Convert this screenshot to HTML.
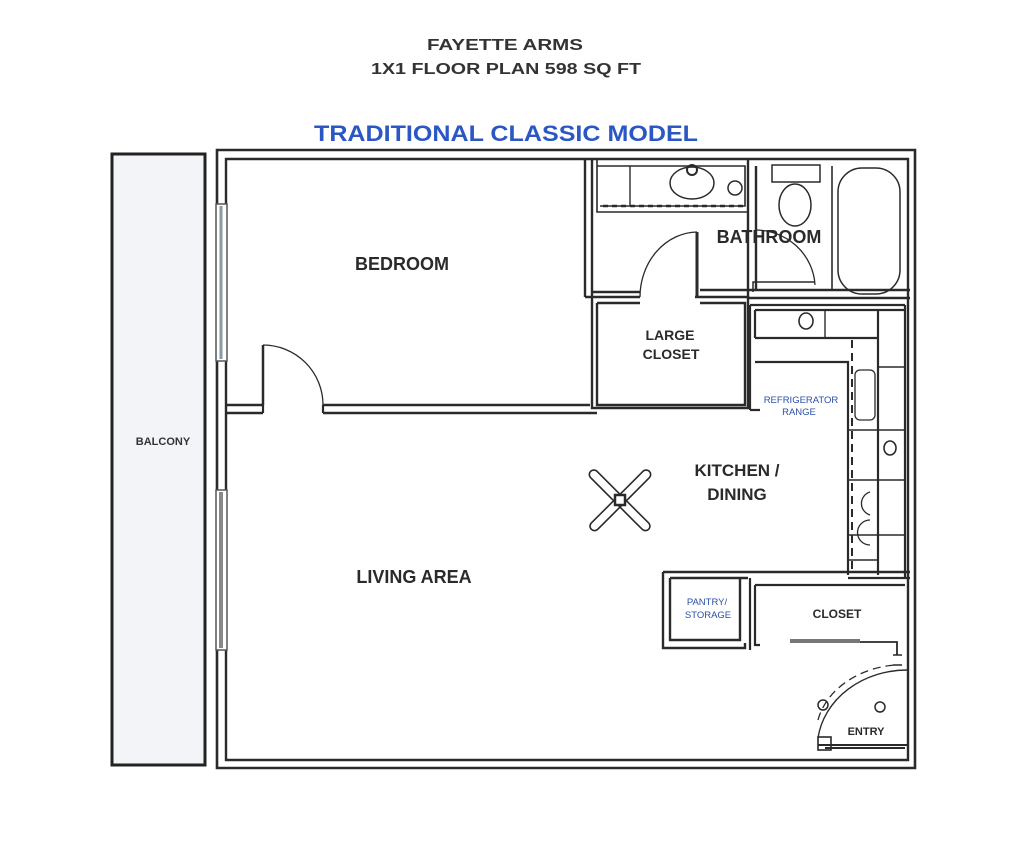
<!DOCTYPE html>
<html><head><meta charset="utf-8"><style>
html,body{margin:0;padding:0;background:#fff;}
svg{display:block;font-family:"Liberation Sans",Arial,sans-serif;}
</style></head><body>
<svg width="1024" height="846" viewBox="0 0 1024 846" xmlns="http://www.w3.org/2000/svg">
<rect width="1024" height="846" fill="#fff"/>
<g font-weight="bold" text-anchor="middle">
<text x="505" y="50" font-size="16" fill="#333" textLength="156" lengthAdjust="spacingAndGlyphs">FAYETTE ARMS</text>
<text x="506" y="74" font-size="16" fill="#333" textLength="270" lengthAdjust="spacingAndGlyphs">1X1 FLOOR PLAN 598 SQ FT</text>
<text x="506" y="141" font-size="22" fill="#2b57c4" textLength="384" lengthAdjust="spacingAndGlyphs">TRADITIONAL CLASSIC MODEL</text>
</g>
<rect x="112" y="154" width="93" height="611" fill="#f2f4f7" stroke="#222" stroke-width="3"/>
<text x="163" y="445" font-size="11" font-weight="bold" text-anchor="middle" fill="#333">BALCONY</text>
<g fill="none" stroke="#2a2a2a" stroke-width="2.2">
<path d="M217 768 V150 H915 V768 Z" stroke-width="2.6"/>
<path d="M226 760 V159 H908 V760 Z" stroke-width="2.4"/>
<rect x="216" y="204" width="11" height="157" fill="#fff" stroke="#555" stroke-width="1.5"/>
<line x1="221" y1="206" x2="221" y2="359" stroke="#8a9aa0" stroke-width="3"/>
<rect x="216" y="490" width="11" height="160" fill="#fff" stroke="#555" stroke-width="1.5"/>
<line x1="221" y1="492" x2="221" y2="648" stroke="#888" stroke-width="4"/>
<path d="M226 405 H263 M226 413 H263 M323 405 H590 M323 413 H597" stroke-width="2.6"/>
<path d="M263 405 V413 M323 405 V413"/>
<path d="M263 405 V345" stroke-width="2.5"/>
<path d="M263 345 A60 60 0 0 1 323 405" stroke-width="1.3"/>
<path d="M585 159 V297 M592 159 V292 M585 297 H640 M592 292 H640" stroke-width="2.4"/>
<path d="M597 159 V212 H748 M597 166 H745 V206 H600" stroke-width="1.6"/>
<line x1="630" y1="166" x2="630" y2="206" stroke-width="1.4"/>
<ellipse cx="692" cy="183" rx="22" ry="16" stroke-width="1.5"/>
<circle cx="692" cy="170" r="5" stroke-width="2"/>
<ellipse cx="735" cy="188" rx="7" ry="7" stroke-width="1.5"/>
<path d="M603 206 H745" stroke-dasharray="5 4" stroke-width="2.5"/>
<path d="M592 292 V408 H748 V297 H695 M597 303 H640 M597 303 V405 H745 V303 H700" stroke-width="2.4"/>
<path d="M697 232 V297" stroke-width="3"/>
<path d="M640 297 A58 65 0 0 1 697 232" stroke-width="1.3"/>
<path d="M748 159 V297 M756 166 V290 M700 290 H910 M748 298 H910" stroke-width="2.4"/>
<path d="M753 292 V282 H815" stroke-width="1.5"/>
<path d="M755 230 A60 58 0 0 1 815 285" stroke-width="1.3"/>
<rect x="772" y="165" width="48" height="17" stroke-width="1.5"/>
<ellipse cx="795" cy="205" rx="16" ry="21" stroke-width="1.5"/>
<line x1="832" y1="166" x2="832" y2="290" stroke-width="1.6"/>
<rect x="838" y="168" width="62" height="126" rx="24" stroke-width="1.5"/>
<path d="M750 305 H905 M755 310 H905 M755 310 V338 M755 338 H878 M755 362 H848 V575 M878 310 V575 M905 305 V578 M848 578 H910" stroke-width="2.2"/>
<path d="M750 305 V410 M750 410 H760" stroke-width="2.2"/>
<path d="M825 310 V338 M878 367 H905 M848 430 H905 M848 480 H878 M848 535 H905 M848 560 H878 M878 480 H905" stroke-width="1.4"/>
<ellipse cx="806" cy="321" rx="7" ry="8" stroke-width="1.6"/>
<ellipse cx="890" cy="448" rx="6" ry="7" stroke-width="1.6"/>
<rect x="855" y="370" width="20" height="50" rx="5" stroke-width="1.3"/>
<path d="M870 492 A12 12 0 0 0 870 515 M870 520 A12 12 0 0 0 870 545" stroke-width="1.3"/>
<path d="M852 340 V572" stroke-dasharray="8 5" stroke-width="2"/>
<path d="M663 572 V648 H745 V643 M670 578 V640 H740 V578 M663 572 H910 M670 578 H748" stroke-width="2.4"/>
<path d="M750 578 V650 M755 585 V645 H760 M755 585 H905" stroke-width="2.2"/>
<path d="M790 642 H897 V655" stroke-width="1.8"/>
<line x1="790" y1="641" x2="860" y2="641" stroke="#777" stroke-width="4"/>
<path d="M893 655 H902 M893 665 H902" stroke-width="1.5"/>
<path d="M818 738 A90 78 0 0 1 908 670" stroke-width="1.4"/>
<path d="M818 720 A88 70 0 0 1 895 665" stroke-dasharray="8 5" stroke-width="1.3"/>
<path d="M818 745 H908 M825 748 H905" stroke-width="2"/>
<circle cx="880" cy="707" r="5" stroke-width="1.5"/>
<circle cx="823" cy="705" r="5" stroke-width="1.5"/>
<rect x="818" y="737" width="13" height="13" stroke-width="1.6"/>
<g stroke-width="1.6">
<rect x="579" y="496" width="82" height="9" rx="4.5" transform="rotate(-45 620 500)"/>
<rect x="579" y="496" width="82" height="9" rx="4.5" transform="rotate(45 620 500)"/>
<rect x="615" y="495" width="10" height="10" stroke-width="2.5" fill="#fff"/>
</g>
</g>
<g font-weight="bold" text-anchor="middle" fill="#2a2a2a">
<text x="402" y="270" font-size="18">BEDROOM</text>
<text x="769" y="243" font-size="18">BATHROOM</text>
<text x="670" y="340" font-size="14">LARGE</text>
<text x="671" y="359" font-size="14">CLOSET</text>
<text x="737" y="476" font-size="17">KITCHEN /</text>
<text x="737" y="500" font-size="17">DINING</text>
<text x="414" y="583" font-size="18">LIVING AREA</text>
<text x="837" y="618" font-size="12">CLOSET</text>
<text x="866" y="735" font-size="11">ENTRY</text>
</g>
<g text-anchor="middle" fill="#2b4fa8" font-size="9.5">
<text x="801" y="403">REFRIGERATOR</text>
<text x="799" y="415">RANGE</text>
<text x="707" y="605">PANTRY/</text>
<text x="708" y="618">STORAGE</text>
</g>
</svg>
</body></html>
